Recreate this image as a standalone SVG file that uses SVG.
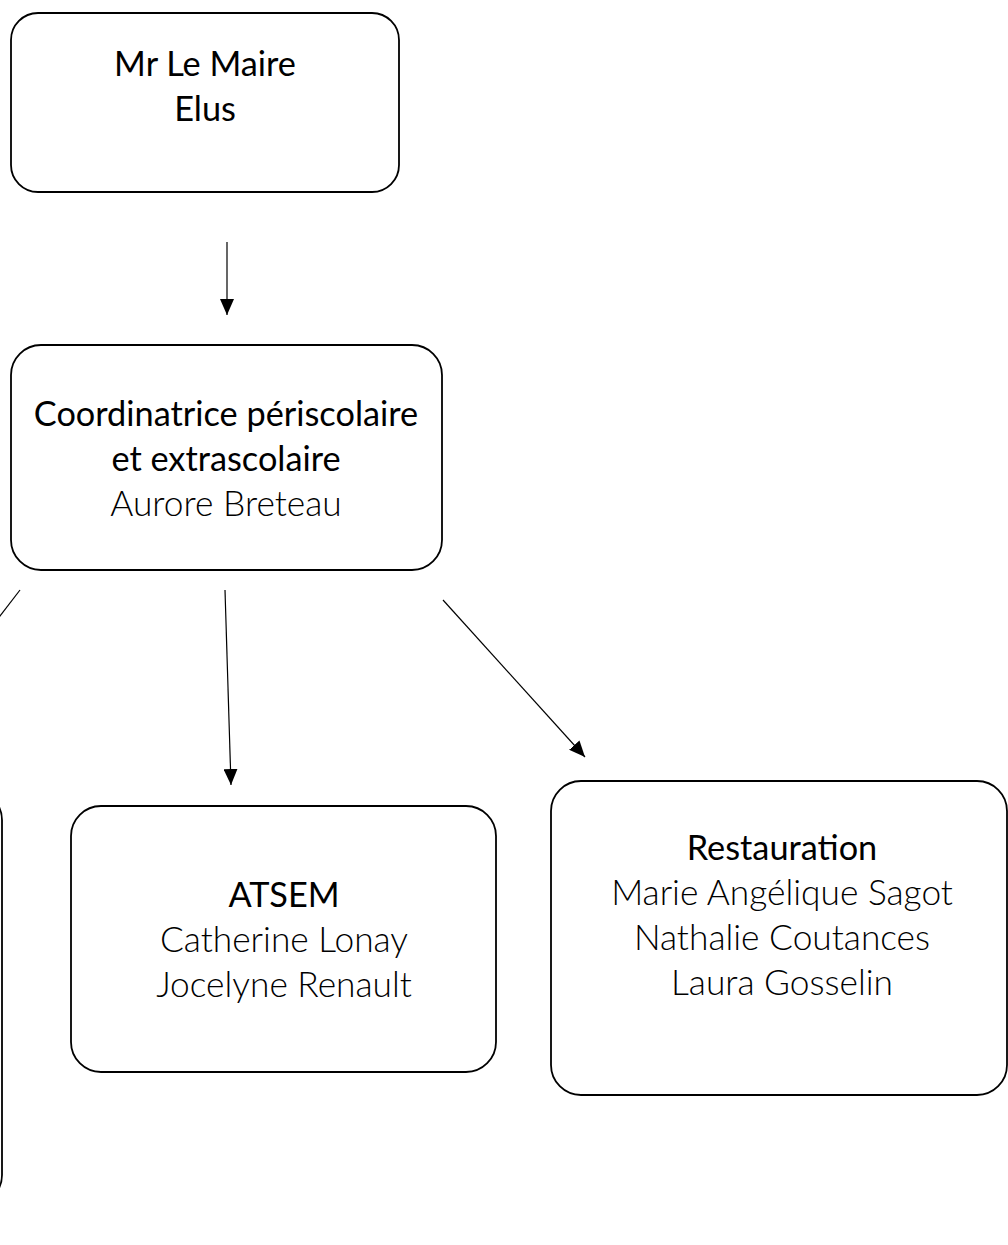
<svg xmlns="http://www.w3.org/2000/svg" width="1008" height="1245" viewBox="0 0 1008 1245">
  <style>
    .box { fill: #ffffff; stroke: #000000; stroke-width: 1.8; }
    .conn { stroke: #000000; stroke-width: 1.2; fill: none; }
    .t { font-family: Lato, "Open Sans", "Liberation Sans", sans-serif; font-size: 34.3px; fill: #000000; text-anchor: middle; }
    .l { font-weight: 300; font-size: 35.3px; }
  </style>
  <defs>
    <marker id="arr" markerWidth="16" markerHeight="14" refX="16" refY="7" viewBox="0 0 16 14" orient="auto" markerUnits="userSpaceOnUse">
      <path d="M0,0 L16,7 L0,14 Z" fill="#000000"/>
    </marker>
  </defs>
  <rect width="1008" height="1245" fill="#ffffff"/>

  <g id="connectors">
    <line class="conn" x1="227" y1="242" x2="227" y2="315" marker-end="url(#arr)"/>
    <line class="conn" x1="225" y1="590" x2="231" y2="785" marker-end="url(#arr)"/>
    <line class="conn" x1="443" y1="600" x2="585" y2="757" marker-end="url(#arr)"/>
    <line class="conn" x1="20" y1="590" x2="-10" y2="629"/>
  </g>

  <g id="node-maire">
    <rect class="box" x="11" y="13" width="388" height="179" rx="27"/>
    <text class="t" x="205" y="76">Mr Le Maire</text>
    <text class="t" x="205" y="121">Elus</text>
  </g>

  <g id="node-coordinatrice">
    <rect class="box" x="11" y="345" width="431" height="225" rx="30"/>
    <text class="t" x="226" y="426">Coordinatrice périscolaire</text>
    <text class="t" x="226" y="471">et extrascolaire</text>
    <text class="t l" x="226" y="516">Aurore Breteau</text>
  </g>

  <g id="node-left">
    <rect class="box" x="-300" y="790" width="302" height="415" rx="30"/>
  </g>

  <g id="node-atsem">
    <rect class="box" x="71" y="806" width="425" height="266" rx="30"/>
    <text class="t" x="284" y="907">ATSEM</text>
    <text class="t l" x="284" y="952">Catherine Lonay</text>
    <text class="t l" x="284" y="997">Jocelyne Renault</text>
  </g>

  <g id="node-restauration">
    <rect class="box" x="551" y="781" width="456" height="314" rx="30"/>
    <text class="t" x="782" y="860">Restauration</text>
    <text class="t l" x="782" y="905">Marie Angélique Sagot</text>
    <text class="t l" x="782" y="950">Nathalie Coutances</text>
    <text class="t l" x="782" y="995">Laura Gosselin</text>
  </g>
</svg>
